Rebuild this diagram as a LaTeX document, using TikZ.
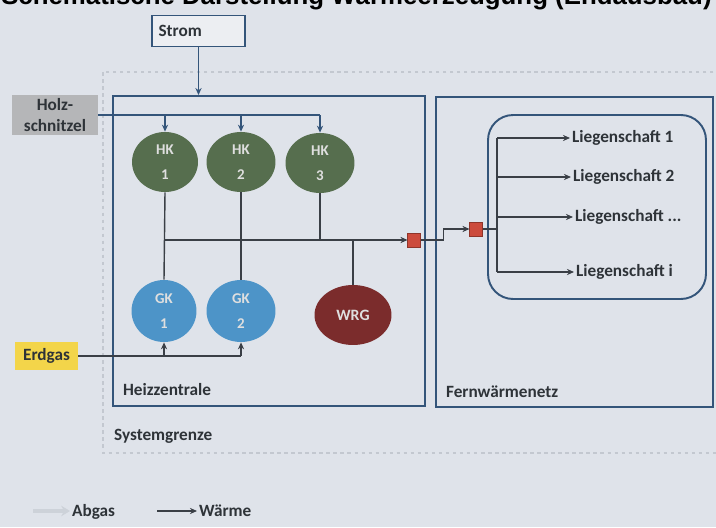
\documentclass[tikz,border=0pt]{standalone}
\usepackage{fontspec}
\setmainfont{Carlito}
\newfontfamily\titlefont{Liberation Sans}
\usetikzlibrary{arrows.meta,shapes.geometric}
\definecolor{bg}{HTML}{DFE3EA}
\definecolor{boxline}{HTML}{34557A}
\definecolor{conn}{HTML}{3A3F46}
\definecolor{hkgreen}{HTML}{566E4E}
\definecolor{gkblue}{HTML}{4D94C8}
\definecolor{wrgred}{HTML}{7B2C2C}
\definecolor{sqred}{HTML}{CC4B3C}
\definecolor{holzgray}{HTML}{B5B6B8}
\definecolor{gasyellow}{HTML}{F3D54A}
\definecolor{txt}{HTML}{2E3338}
\definecolor{sysgray}{HTML}{C3C8D0}
\definecolor{abgasgray}{HTML}{CDD2D9}
\tikzset{
  lbl/.style={font=\fontsize{9.8}{11}\selectfont\bfseries, text=txt, inner sep=1pt},
  area/.style={draw=boxline, line width=1.1pt},
  boiler/.style={ellipse, inner sep=0pt, font=\fontsize{8.5}{14}\selectfont\bfseries, text=white!75!gray, align=center},
  square/.style={fill=sqred, draw=sqred!70!black, line width=0.3pt, minimum width=0.25cm, minimum height=0.28cm, inner sep=0pt},
  line/.style={draw=conn, line width=0.8pt},
  arr/.style={line, -{Stealth[length=4pt,width=3.5pt]}},
  feed/.style={draw=boxline, line width=0.9pt, -{Stealth[length=4pt,width=3.5pt]}},
}
\begin{document}
\begin{tikzpicture}[x=0.02cm,y=-0.02cm]
\useasboundingbox (0,0) rectangle (716,527);
\clip (0,0) rectangle (716,527);
\fill[bg] (0,0) rectangle (716,527);

% title (cut at top edge, as in the reference)
\node[anchor=base east, font=\titlefont\fontsize{14.7}{16}\selectfont\bfseries, text=black, inner sep=0pt] (title) at (712,5) {Schematische Darstellung Wärmeerzeugung (Endausbau)};

% system boundary
\draw[sysgray, dash pattern=on 2pt off 2pt, line width=0.7pt] (103,72) rectangle (730,453);
\node[lbl, anchor=base west] (sys) at (112,440) {Systemgrenze};

% areas
\node[area, minimum width=6.24cm, minimum height=6.2cm] (hz) at (269,251) {};
\node[lbl, anchor=base west] (hzl) at (121,395) {Heizzentrale};
\node[area, minimum width=5.54cm, minimum height=6.2cm] (fw) at (574.5,252) {};
\node[lbl, anchor=base west] (fwl) at (444,397) {Fernwärmenetz};
\node[area, rounded corners=0.5cm, minimum width=4.36cm, minimum height=3.68cm] (ls) at (597,207) {};

% inputs
\node[draw=boxline, line width=1pt, fill=bg!60!white, minimum width=1.86cm, minimum height=0.62cm, text width=1.6cm, align=left, lbl, inner xsep=0.13cm] (strom) at (198.5,31) {Strom};
\node[fill=holzgray, minimum width=1.72cm, minimum height=0.8cm, align=center, lbl, font=\fontsize{9.8}{11.5}\selectfont\bfseries] (holz) at (55,115) {Holz-\\schnitzel};
\node[fill=gasyellow, minimum width=1.26cm, minimum height=0.56cm, lbl] (gas) at (46.5,356) {Erdgas};

% boilers
\node[boiler, fill=hkgreen, minimum width=1.32cm, minimum height=1.2cm] (hk1) at (165,162) {HK\\1};
\node[boiler, fill=hkgreen, minimum width=1.38cm, minimum height=1.2cm] (hk2) at (241,162) {HK\\2};
\node[boiler, fill=hkgreen, minimum width=1.38cm, minimum height=1.2cm] (hk3) at (320,163) {HK\\3};
\node[boiler, fill=gkblue, minimum width=1.3cm, minimum height=1.24cm] (gk1) at (164,311) {GK\\1};
\node[boiler, fill=gkblue, minimum width=1.38cm, minimum height=1.24cm] (gk2) at (241,311) {GK\\2};
\node[boiler, fill=wrgred, minimum width=1.54cm, minimum height=1.2cm, font=\fontsize{9}{11}\selectfont\bfseries] (wrg) at (353,315) {WRG};

% transfer stations
\node[square] (rq1) at (414,240) {};
\node[square] (rq2) at (476,229) {};

% Liegenschaften
\coordinate (b1) at (497,138);
\coordinate (b2) at (497,177);
\coordinate (b3) at (497,217);
\coordinate (b4) at (497,272);
\node[lbl, anchor=west] (l1) at (570,138) {Liegenschaft 1};
\node[lbl, anchor=west] (l2) at (571,177) {Liegenschaft 2};
\node[lbl, anchor=west] (l3) at (573,217) {Liegenschaft ...};
\node[lbl, anchor=west] (l4) at (574,272) {Liegenschaft i};

% connectors
\draw[feed] (strom.south) -- (strom.south |- hz.north);
\draw[feed, -] (holz.east) -- (hk3.north |- holz.east);
\draw[feed] (hk1.north |- holz.east) -- (hk1.north);
\draw[feed] (hk2.north |- holz.east) -- (hk2.north);
\draw[feed] (hk3.north |- holz.east) -- (hk3.north);

\draw[line] (hk1.south) -- (gk1.north);
\draw[line] (hk2.south) -- (gk2.north);
\draw[line] (hk3.south) -- (hk3.south |- rq1);
\draw[line] (wrg.north) -- (wrg.north |- rq1);
\draw[arr] (hk1.south |- rq1) -- (rq1.west);

\draw[line] (gas.east) -- (gk2.south |- gas.east);
\draw[arr] (gk1.south |- gas.east) -- (gk1.south);
\draw[arr] (gk2.south |- gas.east) -- (gk2.south);

\draw[arr] (rq1.east) -- ++(23,0) |- (rq2.west);
\draw[line] (rq2.east) -- (b1 |- rq2.east);
\draw[line] (b1) -- (b4);
\draw[arr] (b1) -- (l1.west);
\draw[arr] (b2) -- (l2.west);
\draw[arr] (b3) -- (l3.west);
\draw[arr] (b4) -- (l4.west);

% legend
\node[lbl, anchor=base west] (abgas) at (70,516) {Abgas};
\coordinate (la) at (33,511);
\draw[draw=abgasgray, line width=2.5pt, -{Stealth[length=5pt,width=6pt]}] (la) -- (abgas.west |- la);
\node[lbl, anchor=base west] (waerme) at (197,516) {Wärme};
\coordinate (lw) at (157,511);
\draw[arr] (lw) -- (waerme.west |- lw);
\end{tikzpicture}
\end{document}
